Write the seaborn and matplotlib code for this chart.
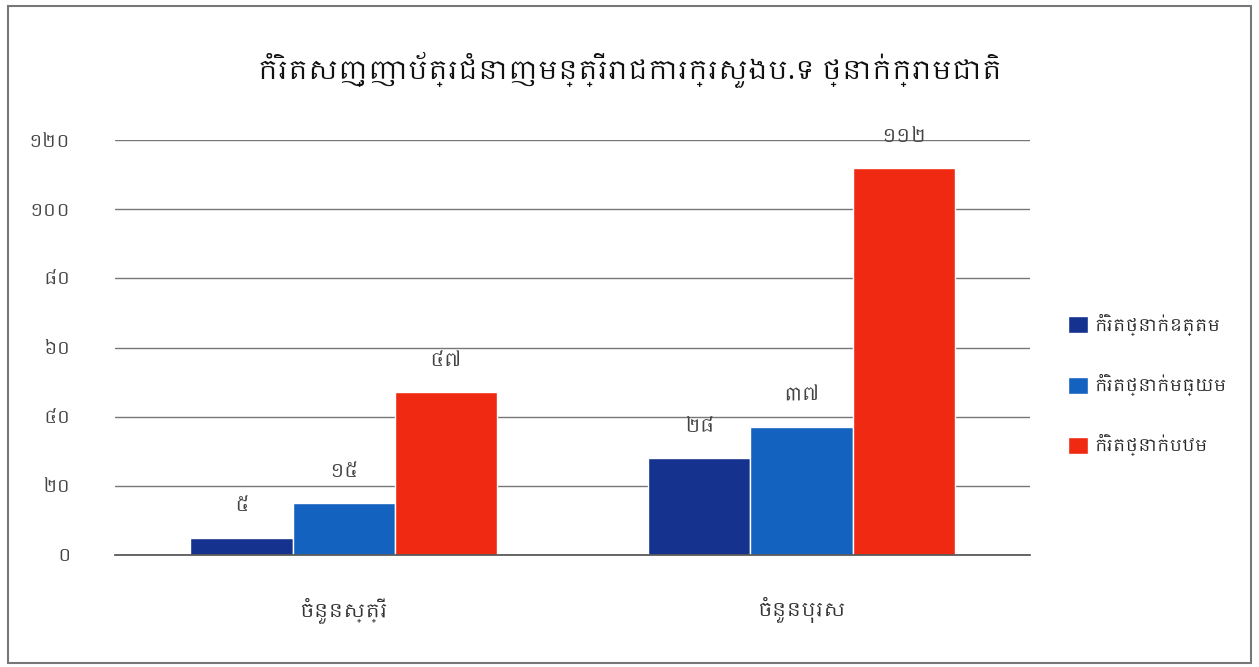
import pandas as pd
import matplotlib
matplotlib.use("Agg")
import matplotlib.pyplot as plt
import seaborn as sns
from matplotlib import font_manager
from matplotlib.patches import Rectangle

# Chart data
groups = ["ចំនួនស្ត្រី", "ចំនួនបុរស"]
levels = ["កំរិតថ្នាក់ឧត្តម", "កំរិតថ្នាក់មធ្យម", "កំរិតថ្នាក់បឋម"]
women = [5, 15, 47]
men = [28, 37, 112]
value_labels_women = ["៥", "១៥", "៤៧"]
value_labels_men = ["២៨", "៣៧", "១១២"]
y_ticks = [0, 20, 40, 60, 80, 100, 120]
y_tick_labels = ["០", "២០", "៤០", "៦០", "៨០", "១០០", "១២០"]
title = "កំរិតសញ្ញាប័ត្រជំនាញមន្ត្រីរាជការក្រសួងប.ទ ថ្នាក់ក្រោមជាតិ"
colors = ["#15328f", "#1462c0", "#f02a12"]

df = pd.DataFrame({
    "group": [groups[0]] * 3 + [groups[1]] * 3,
    "level": levels * 2,
    "count": women + men,
})

sns.set_theme(style="white")

# use a Khmer-capable font if one is installed, else fall back
families = []
for f in font_manager.fontManager.ttflist:
    if "khmer" in f.name.lower() and f.name not in families:
        families.append(f.name)
plt.rcParams["font.family"] = families + ["DejaVu Sans"]

fig = plt.figure(figsize=(12.59, 6.67), dpi=100)
ax = fig.add_axes([0.0913, 0.168, 0.727, 0.622])

sns.barplot(data=df, x="group", y="count", hue="level", hue_order=levels,
            palette=colors, width=0.67, saturation=1, gap=0, ax=ax)

ax.set_ylim(0, 120)
ax.set_yticks(y_ticks)
ax.set_yticklabels(y_tick_labels, fontsize=13, color="#444444")
ax.tick_params(axis="x", labelsize=14, colors="#333333", pad=30, length=0)
ax.tick_params(axis="y", pad=32, length=0)
ax.set_xlabel("")
ax.set_ylabel("")
ax.yaxis.grid(True, color="#777777", linewidth=1)
ax.set_axisbelow(True)
for side in ["left", "right", "top"]:
    ax.spines[side].set_visible(False)
ax.spines["bottom"].set_color("#555555")

# value labels above each bar
all_labels = [value_labels_women, value_labels_men]
for i, container in enumerate(ax.containers):
    texts = [all_labels[g][i] for g in range(len(groups))]
    ax.bar_label(container, labels=texts, padding=16, fontsize=14, color="#444444")

ax.legend(loc="center left", bbox_to_anchor=(1.025, 0.41), frameon=False,
          fontsize=12, handlelength=1.2, handleheight=1.2, labelspacing=2.3,
          handletextpad=0.4)

fig.text(0.5, 0.895, title, ha="center", va="center", fontsize=19,
         color="#111111", fontweight="bold")

# thin frame around the whole picture
fig.patches.append(Rectangle((0.006, 0.006), 0.988, 0.985, transform=fig.transFigure,
                             fill=False, edgecolor="#777777", linewidth=1.5))

fig.savefig("out.png", dpi=100)
